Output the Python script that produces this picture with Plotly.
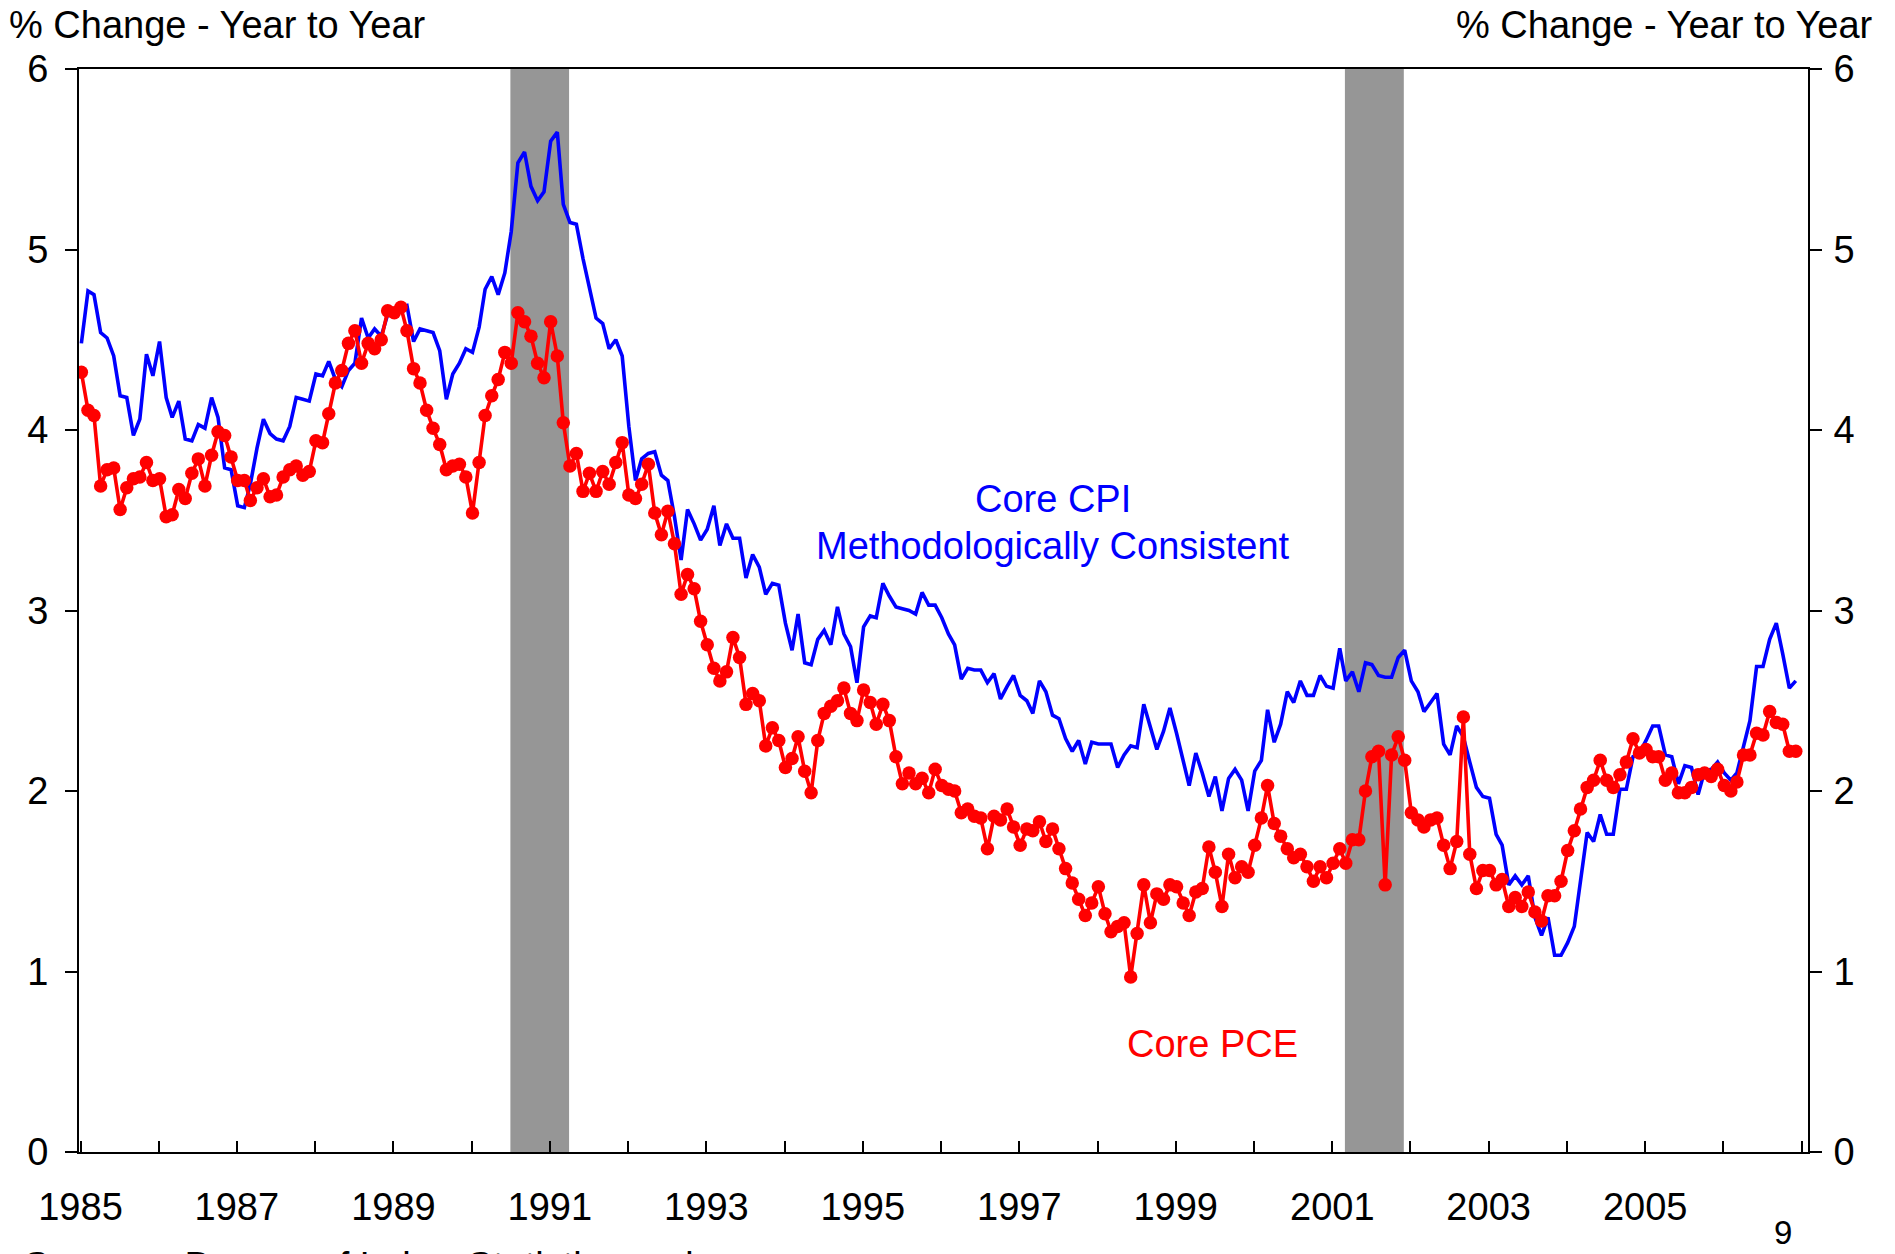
import pandas as pd
import plotly.graph_objects as go

# Monthly observations, Jan 1985 - Dec 2006 (year-over-year % change)
months = pd.date_range("1985-01-01", periods=264, freq="MS") + pd.Timedelta(days=4)

core_cpi_rs = [
    4.48, 4.77, 4.75, 4.54, 4.51, 4.41, 4.19, 4.18, 3.97, 4.06, 4.42, 4.30,
    4.49, 4.18, 4.07, 4.16, 3.95, 3.94, 4.03, 4.01, 4.18, 4.07, 3.79, 3.78,
    3.58, 3.57, 3.70, 3.90, 4.06, 3.98, 3.95, 3.94, 4.02, 4.18, 4.17, 4.16,
    4.31, 4.30, 4.38, 4.28, 4.24, 4.33, 4.37, 4.62, 4.51, 4.56, 4.52, 4.64,
    4.67, 4.68, 4.69, 4.49, 4.56, 4.55, 4.54, 4.44, 4.17, 4.31, 4.37, 4.45,
    4.43, 4.57, 4.78, 4.85, 4.75, 4.87, 5.10, 5.48, 5.54, 5.35, 5.27, 5.32,
    5.60, 5.65, 5.25, 5.15, 5.14, 4.95, 4.78, 4.62, 4.59, 4.45, 4.50, 4.41,
    4.02, 3.72, 3.84, 3.87, 3.88, 3.75, 3.72, 3.52, 3.28, 3.56, 3.48, 3.39,
    3.45, 3.58, 3.36, 3.48, 3.40, 3.40, 3.18, 3.31, 3.24, 3.09, 3.15, 3.14,
    2.93, 2.78, 2.98, 2.71, 2.70, 2.84, 2.89, 2.81, 3.02, 2.87, 2.80, 2.60,
    2.91, 2.97, 2.96, 3.15, 3.08, 3.02, 3.01, 3.00, 2.98, 3.10, 3.03, 3.03,
    2.96, 2.87, 2.81, 2.62, 2.68, 2.67, 2.67, 2.60, 2.65, 2.51, 2.58, 2.64,
    2.53, 2.50, 2.43, 2.61, 2.55, 2.42, 2.40, 2.29, 2.22, 2.28, 2.15, 2.27,
    2.26, 2.26, 2.26, 2.13, 2.20, 2.25, 2.24, 2.48, 2.35, 2.23, 2.33, 2.46,
    2.32, 2.17, 2.03, 2.21, 2.10, 1.97, 2.08, 1.89, 2.07, 2.12, 2.06, 1.89,
    2.11, 2.17, 2.45, 2.27, 2.37, 2.55, 2.49, 2.61, 2.53, 2.53, 2.64, 2.58,
    2.57, 2.79, 2.61, 2.66, 2.55, 2.71, 2.70, 2.64, 2.63, 2.63, 2.74, 2.78,
    2.61, 2.55, 2.44, 2.49, 2.54, 2.26, 2.20, 2.36, 2.30, 2.16, 2.02, 1.97,
    1.96, 1.76, 1.70, 1.48, 1.53, 1.48, 1.53, 1.30, 1.20, 1.30, 1.09, 1.09,
    1.16, 1.25, 1.51, 1.77, 1.72, 1.87, 1.76, 1.76, 2.01, 2.01, 2.19, 2.21,
    2.28, 2.36, 2.36, 2.20, 2.19, 2.04, 2.14, 2.13, 1.98, 2.11, 2.12, 2.16,
    2.10, 2.06, 2.10, 2.25, 2.39, 2.69, 2.69, 2.84, 2.93, 2.76, 2.57, 2.61,
]

core_pce = [
    4.32, 4.11, 4.08, 3.69, 3.78, 3.79, 3.56, 3.68, 3.73, 3.74, 3.82, 3.72,
    3.73, 3.52, 3.53, 3.67, 3.62, 3.76, 3.84, 3.69, 3.86, 3.99, 3.97, 3.85,
    3.72, 3.72, 3.61, 3.68, 3.73, 3.63, 3.64, 3.74, 3.78, 3.80, 3.75, 3.77,
    3.94, 3.93, 4.09, 4.26, 4.33, 4.48, 4.55, 4.37, 4.48, 4.45, 4.50, 4.66,
    4.65, 4.68, 4.55, 4.34, 4.26, 4.11, 4.01, 3.92, 3.78, 3.80, 3.81, 3.74,
    3.54, 3.82, 4.08, 4.19, 4.28, 4.43, 4.37, 4.65, 4.60, 4.52, 4.37, 4.29,
    4.60, 4.41, 4.04, 3.80, 3.87, 3.66, 3.76, 3.66, 3.77, 3.70, 3.82, 3.93,
    3.64, 3.62, 3.70, 3.81, 3.54, 3.42, 3.55, 3.37, 3.09, 3.20, 3.12, 2.94,
    2.81, 2.68, 2.61, 2.66, 2.85, 2.74, 2.48, 2.54, 2.50, 2.25, 2.35, 2.28,
    2.13, 2.18, 2.30, 2.11, 1.99, 2.28, 2.43, 2.47, 2.50, 2.57, 2.43, 2.39,
    2.56, 2.49, 2.37, 2.48, 2.39, 2.19, 2.04, 2.10, 2.04, 2.07, 1.99, 2.12,
    2.03, 2.01, 2.00, 1.88, 1.90, 1.86, 1.85, 1.68, 1.86, 1.84, 1.90, 1.80,
    1.70, 1.79, 1.78, 1.83, 1.72, 1.79, 1.68, 1.57, 1.49, 1.40, 1.31, 1.38,
    1.47, 1.32, 1.22, 1.25, 1.27, 0.97, 1.21, 1.48, 1.27, 1.43, 1.40, 1.48,
    1.47, 1.38, 1.31, 1.44, 1.46, 1.69, 1.55, 1.36, 1.65, 1.52, 1.58, 1.55,
    1.70, 1.85, 2.03, 1.82, 1.75, 1.68, 1.63, 1.65, 1.58, 1.50, 1.58, 1.52,
    1.60, 1.68, 1.60, 1.73, 1.73, 2.00, 2.19, 2.22, 1.48, 2.20, 2.30, 2.17,
    1.88, 1.84, 1.80, 1.84, 1.85, 1.70, 1.57, 1.72, 2.41, 1.65, 1.46, 1.56,
    1.56, 1.48, 1.51, 1.36, 1.41, 1.36, 1.44, 1.33, 1.28, 1.42, 1.42, 1.50,
    1.67, 1.78, 1.90, 2.02, 2.06, 2.17, 2.06, 2.02, 2.09, 2.16, 2.29, 2.21,
    2.23, 2.19, 2.19, 2.06, 2.10, 1.99, 1.99, 2.02, 2.09, 2.10, 2.08, 2.12,
    2.03, 2.00, 2.05, 2.20, 2.20, 2.32, 2.31, 2.44, 2.38, 2.37, 2.22, 2.22,
]

recessions = [("1990-07-01", "1991-04-01"), ("2001-03-01", "2001-12-01")]
label_years = list(range(1985, 2006, 2))
minor_years = list(range(1985, 2008))
y_ticks = [0, 1, 2, 3, 4, 5, 6]

FONT = "Arial, Liberation Sans, sans-serif"
BLUE = "#0000FF"
RED = "#FF0000"

fig = go.Figure()

fig.add_trace(go.Scatter(
    x=months, y=core_cpi_rs, mode="lines",
    line=dict(color=BLUE, width=3.6), showlegend=False, hoverinfo="skip"))
fig.add_trace(go.Scatter(
    x=months, y=core_pce, mode="lines+markers",
    line=dict(color=RED, width=3.6),
    marker=dict(color=RED, size=13.5), showlegend=False, hoverinfo="skip"))
# invisible trace to activate the right-hand axis
fig.add_trace(go.Scatter(
    x=[months[0]], y=[0], yaxis="y2", mode="markers",
    marker=dict(opacity=0), showlegend=False, hoverinfo="skip"))

for x0, x1 in recessions:
    fig.add_shape(type="rect", xref="x", yref="y", x0=x0, x1=x1, y0=0, y1=6,
                  fillcolor="#969696", line=dict(width=0), layer="below")

axis_font = dict(family=FONT, size=38, color="black")

# page has an 8px body margin: figure is 8px smaller and margins shifted
fig.update_layout(
    width=1887, height=1246,
    margin=dict(l=70.6, r=87, t=61, b=102, autoexpand=False),
    paper_bgcolor="white", plot_bgcolor="white",
    font=dict(family=FONT, color="black"),
    xaxis=dict(
        type="date", range=["1984-12-25", "2007-01-31"],
        tickmode="array",
        tickvals=[f"{y}-01-01" for y in label_years],
        ticktext=[str(y) for y in label_years],
        ticks="inside", ticklen=11, tickwidth=1.5, tickcolor="black",
        minor=dict(tickmode="array",
                   tickvals=[f"{y}-01-01" for y in minor_years],
                   ticks="inside", ticklen=11, tickwidth=1.5, tickcolor="black",
                   showgrid=False),
        showline=True, linecolor="black", linewidth=2, mirror=True,
        showgrid=False, zeroline=False,
        tickfont=axis_font, ticklabelstandoff=20,
    ),
    yaxis=dict(
        range=[0, 6], tickmode="array", tickvals=y_ticks,
        ticks="outside", ticklen=12, tickwidth=1.5, tickcolor="black",
        showline=True, linecolor="black", linewidth=2,
        showgrid=False, zeroline=False, tickfont=axis_font,
        ticklabelstandoff=9,
    ),
    yaxis2=dict(
        range=[0, 6], tickmode="array", tickvals=y_ticks,
        overlaying="y", side="right",
        ticks="outside", ticklen=12, tickwidth=1.5, tickcolor="black",
        showline=True, linecolor="black", linewidth=2,
        showgrid=False, zeroline=False, tickfont=axis_font,
        ticklabelstandoff=4,
    ),
)

# plot area in page pixels: x 78.6..1808, y 69..1152
W = 1729.4
H = 1083.0

def px_x(px):
    return (px - 78.6) / W

def px_y(py):
    return (1152 - py) / H

annos = [
    dict(text="% Change - Year to Year", x=px_x(8), y=px_y(24.5), xanchor="left",
         yanchor="middle", xref="paper", yref="paper", borderpad=0,
         font=dict(size=38, color="black")),
    dict(text="% Change - Year to Year", x=px_x(1874), y=px_y(24.5), xanchor="right",
         yanchor="middle", xref="paper", yref="paper", borderpad=0,
         font=dict(size=38, color="black")),
    dict(text="Core CPI", x="1997-06-06", y=3.62, xref="x", yref="y",
         xanchor="center", yanchor="middle", font=dict(size=38, color=BLUE)),
    dict(text="Methodologically Consistent", x="1997-06-06", y=3.36, xref="x", yref="y",
         xanchor="center", yanchor="middle", font=dict(size=38, color=BLUE)),
    dict(text="Core PCE", x="1999-06-20", y=0.60, xref="x", yref="y",
         xanchor="center", yanchor="middle", font=dict(size=38, color=RED)),
    dict(text="9", x=px_x(1783), y=px_y(1232), xref="paper", yref="paper",
         xanchor="center", yanchor="middle", borderpad=0,
         font=dict(size=33, color="black")),
    dict(text="Sources: Bureau of Labor Statistics and<br>Bureau of Economic Analysis",
         x=px_x(22), y=px_y(1243), xref="paper", yref="paper", align="left",
         xanchor="left", yanchor="top", font=dict(size=38, color="black")),
]
for a in annos:
    a["showarrow"] = False
    a["font"]["family"] = FONT
    fig.add_annotation(**a)

fig.write_html("out.html")
